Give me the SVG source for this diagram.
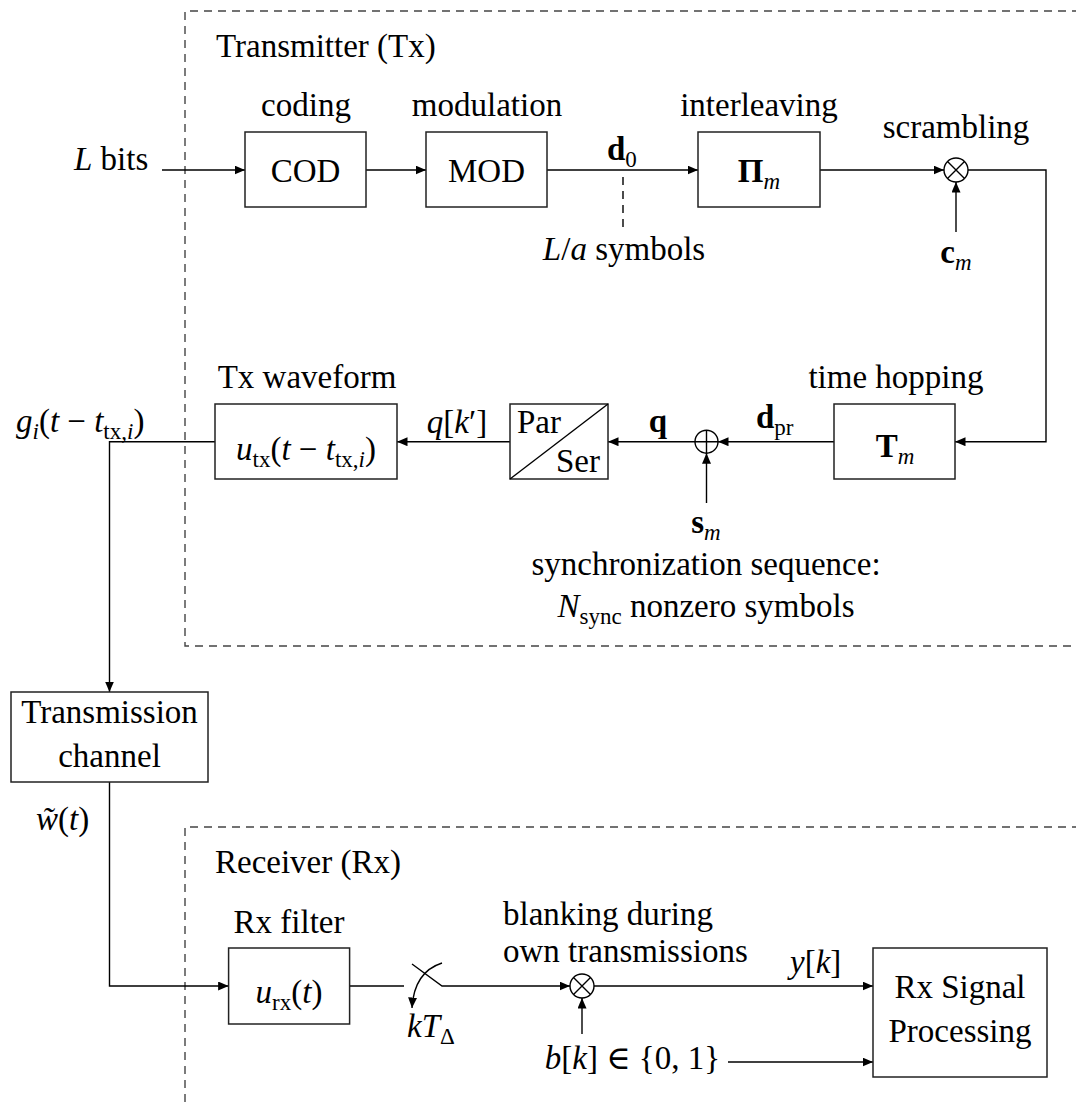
<svg xmlns="http://www.w3.org/2000/svg" width="1076" height="1104" viewBox="0 0 1076 1104" font-family="'Liberation Serif', 'DejaVu Serif', serif">
  <defs>
    <marker id="arr" markerUnits="userSpaceOnUse" markerWidth="11" markerHeight="9" refX="10.5" refY="4.5" orient="auto">
      <path d="M0,0 L10.5,4.5 L0,9 z" fill="#000"/>
    </marker>
    <style>
      text { font-family: "Liberation Serif", "DejaVu Serif", serif; font-size: 33px; fill: #000; }
      .c { text-anchor: middle; }
      .e { text-anchor: end; }
      .i { font-style: italic; }
      .b { font-weight: bold; }
      .s { font-size: 23px; }
      .box { fill: #fff; stroke: #222; stroke-width: 1.5; }
      .w { fill: none; stroke: #000; stroke-width: 1.4; }
      .a { marker-end: url(#arr); }
      .frame { fill: none; stroke: #444; stroke-width: 1.4; stroke-dasharray: 8 6; }
      .node { fill: #fff; stroke: #000; stroke-width: 1.4; }
    </style>
  </defs>

  <rect width="1076" height="1104" fill="#fff"/>

  <!-- dashed frames -->
  <g id="tx-frame">
    <path class="frame" d="M1080,11 H185 V646 H1080"/>
    <text x="216" y="57">Transmitter (Tx)</text>
  </g>
  <g id="rx-frame">
    <path class="frame" d="M1080,827 H185 V1104"/>
    <text x="215" y="873">Receiver (Rx)</text>
  </g>

  <!-- connectors -->
  <g id="connectors">
    <path class="w a" d="M162,170 H245"/>
    <path class="w a" d="M366,170 H426"/>
    <path class="w a" d="M547,170 H698"/>
    <path class="w" d="M623,177 V228" stroke-dasharray="8 6"/>
    <path class="w a" d="M820,170 H944"/>
    <path class="w a" d="M956,232 V182"/>
    <path class="w a" d="M968,170 H1046 V441.7 H955"/>
    <path class="w a" d="M834,441.7 H718"/>
    <path class="w a" d="M706.5,503 V453.2"/>
    <path class="w a" d="M695,441.7 H608"/>
    <path class="w a" d="M510,441.7 H397"/>
    <path class="w a" d="M215,441.7 H109.5 V692"/>
    <path class="w a" d="M109.5,782 V986 H228.6"/>
    <path class="w" d="M349.5,986 H404"/>
    <path class="w a" d="M412,964 L442,986 H570"/>
    <path class="w a" d="M442,963 Q414,972 412,1008"/>
    <path class="w a" d="M582,1034 V998"/>
    <path class="w a" d="M594,986 H873"/>
    <path class="w a" d="M728,1062 H873"/>
  </g>

  <!-- free labels on the signal path -->
  <g id="labels">
    <text x="74" y="170"><tspan class="i">L</tspan> bits</text>
    <text x="607" y="160"><tspan class="b">d</tspan><tspan class="s" dy="7">0</tspan></text>
    <text class="c" x="624" y="260"><tspan class="i">L</tspan>/<tspan class="i">a</tspan> symbols</text>
    <text class="c" x="956" y="263"><tspan class="b">c</tspan><tspan class="s i" dy="7">m</tspan></text>
    <text x="756" y="428"><tspan class="b">d</tspan><tspan class="s" dy="7">pr</tspan></text>
    <text class="c" x="658" y="432" font-weight="bold">q</text>
    <text class="c" x="457" y="433"><tspan class="i">q</tspan>[<tspan class="i">k</tspan>′]</text>
    <text x="16" y="432"><tspan class="i">g</tspan><tspan class="s i" dy="7">i</tspan><tspan dy="-7">(</tspan><tspan class="i">t</tspan> − <tspan class="i">t</tspan><tspan class="s" dy="7">tx,</tspan><tspan class="s i">i</tspan><tspan dy="-7">)</tspan></text>
    <text class="c" x="706" y="533"><tspan class="b">s</tspan><tspan class="s i" dy="7">m</tspan></text>
    <text class="c" x="706" y="575">synchronization sequence:</text>
    <text class="c" x="706" y="617"><tspan class="i">N</tspan><tspan class="s" dy="7">sync</tspan><tspan dy="-7"> nonzero symbols</tspan></text>
    <text x="36" y="830"><tspan class="i">w̃</tspan>(<tspan class="i">t</tspan>)</text>
    <text x="407" y="1037"><tspan class="i">kT</tspan><tspan class="s" dy="7">Δ</tspan></text>
    <text x="503" y="925">blanking during</text>
    <text x="503" y="962">own transmissions</text>
    <text x="790" y="973"><tspan class="i">y</tspan>[<tspan class="i">k</tspan>]</text>
    <text class="e" x="720" y="1069"><tspan class="i">b</tspan>[<tspan class="i">k</tspan>] ∈ {0, 1}</text>
  </g>

  <!-- transmitter blocks -->
  <g id="cod">
    <rect class="box" x="245" y="132" width="121" height="75"/>
    <text class="c" x="305.5" y="182">COD</text>
    <text class="c" x="306" y="116">coding</text>
  </g>
  <g id="mod">
    <rect class="box" x="426" y="132" width="121" height="75"/>
    <text class="c" x="486.5" y="182">MOD</text>
    <text class="c" x="487" y="116">modulation</text>
  </g>
  <g id="interleaver">
    <rect class="box" x="698" y="132" width="122" height="75"/>
    <text class="c" x="759" y="182"><tspan class="b">Π</tspan><tspan class="s i" dy="7">m</tspan></text>
    <text class="c" x="759" y="116">interleaving</text>
  </g>
  <g id="scrambler">
    <circle class="node" cx="956" cy="170" r="12"/>
    <path class="w" d="M947.5,161.5 L964.5,178.5 M964.5,161.5 L947.5,178.5"/>
    <text class="c" x="956" y="138">scrambling</text>
  </g>
  <g id="time-hopping">
    <rect class="box" x="834" y="404" width="121" height="75"/>
    <text class="c" x="895" y="457"><tspan class="b">T</tspan><tspan class="s i" dy="7">m</tspan></text>
    <text class="c" x="896" y="388">time hopping</text>
  </g>
  <g id="sync-adder">
    <circle class="node" cx="706.5" cy="441.7" r="11.5"/>
    <path class="w" d="M695,441.7 H718 M706.5,430.2 V453.2"/>
  </g>
  <g id="par-ser">
    <rect class="box" x="510" y="404" width="98" height="75"/>
    <path class="w" d="M510,479 L608,404"/>
    <text x="517" y="433">Par</text>
    <text class="e" x="600" y="472">Ser</text>
  </g>
  <g id="tx-waveform">
    <rect class="box" x="215" y="404" width="182" height="75"/>
    <text class="c" x="306" y="460"><tspan class="i">u</tspan><tspan class="s" dy="7">tx</tspan><tspan dy="-7">(</tspan><tspan class="i">t</tspan> − <tspan class="i">t</tspan><tspan class="s" dy="7">tx,</tspan><tspan class="s i">i</tspan><tspan dy="-7">)</tspan></text>
    <text class="c" x="307" y="388">Tx waveform</text>
  </g>

  <!-- channel -->
  <g id="channel">
    <rect class="box" x="11" y="692" width="197" height="90"/>
    <text class="c" x="109.5" y="723">Transmission</text>
    <text class="c" x="109.5" y="767">channel</text>
  </g>

  <!-- receiver blocks -->
  <g id="rx-filter">
    <rect class="box" x="228.6" y="948" width="121" height="76"/>
    <text class="c" x="289" y="1003"><tspan class="i">u</tspan><tspan class="s" dy="7">rx</tspan><tspan dy="-7">(</tspan><tspan class="i">t</tspan>)</text>
    <text class="c" x="289" y="933">Rx filter</text>
  </g>
  <g id="blanking">
    <circle class="node" cx="582" cy="986" r="12"/>
    <path class="w" d="M573.5,977.5 L590.5,994.5 M590.5,977.5 L573.5,994.5"/>
  </g>
  <g id="rx-processing">
    <rect class="box" x="873" y="948" width="174" height="129"/>
    <text class="c" x="960" y="998">Rx Signal</text>
    <text class="c" x="960" y="1042">Processing</text>
  </g>
</svg>
